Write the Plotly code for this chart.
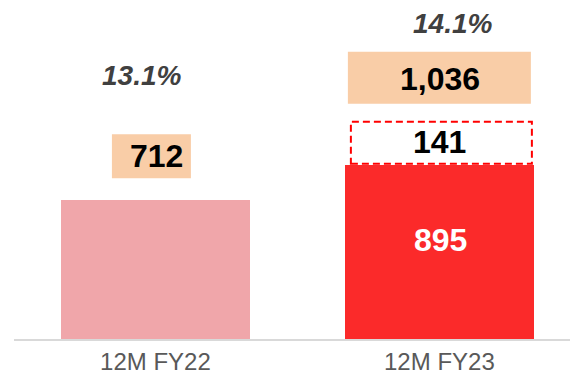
import plotly.graph_objects as go

# Data
categories = ["12M FY22", "12M FY23"]
base_values = [712, 895]
increment_fy23 = 141
totals = [712, 1036]
margins = ["13.1%", "14.1%"]

FONT = "Liberation Sans, Arial, sans-serif"
PINK = "#F0A6AA"
RED = "#FB2A2A"
PEACH = "#F9CDA7"
x_idx = [0, 1]

fig = go.Figure()
fig.add_trace(go.Bar(
    x=x_idx, y=base_values, width=0.665,
    marker=dict(color=[PINK, RED], line=dict(width=0)),
    hoverinfo="skip",
))

shapes = []
annotations = []

# FY22 total label box + text
shapes.append(dict(type="rect", xref="x", yref="y", xsizemode="pixel", ysizemode="pixel",
                   xanchor=0, yanchor=base_values[0], x0=-43.5, x1=35.5, y0=22, y1=66,
                   fillcolor=PEACH, line=dict(width=0), layer="below"))
annotations.append(dict(x=0, y=base_values[0], xref="x", yref="y", text=f"{totals[0]:,}",
                        showarrow=False, xshift=1.5, yshift=44,
                        font=dict(family=FONT, size=32, color="#000000", weight="bold")))
annotations.append(dict(x=0, y=base_values[0], xref="x", yref="y", text=f"<i>{margins[0]}</i>",
                        showarrow=False, xshift=-13.5, yshift=125,
                        font=dict(family=FONT, size=28, color="#404040", weight="bold")))

# FY23: value inside bar
annotations.append(dict(x=1, y=base_values[1], xref="x", yref="y", text=f"{base_values[1]:,}",
                        showarrow=False, xshift=1, yshift=-75,
                        font=dict(family=FONT, size=32, color="#FFFFFF", weight="bold")))
# FY23 increment dashed box
shapes.append(dict(type="rect", xref="x", yref="y", xsizemode="pixel", ysizemode="pixel",
                   xanchor=1, yanchor=base_values[1], x0=-88.5, x1=92.5, y0=1, y1=43,
                   fillcolor="rgba(0,0,0,0)", line=dict(color="#FF0000", width=2, dash="7px,4px")))
annotations.append(dict(x=1, y=base_values[1], xref="x", yref="y", text=f"{increment_fy23:,}",
                        showarrow=False, xshift=0.5, yshift=23,
                        font=dict(family=FONT, size=32, color="#000000", weight="bold")))
# FY23 total label box + text
shapes.append(dict(type="rect", xref="x", yref="y", xsizemode="pixel", ysizemode="pixel",
                   xanchor=1, yanchor=base_values[1], x0=-91.5, x1=91.5, y0=61, y1=113,
                   fillcolor=PEACH, line=dict(width=0), layer="below"))
annotations.append(dict(x=1, y=base_values[1], xref="x", yref="y", text=f"{totals[1]:,}",
                        showarrow=False, xshift=0.5, yshift=86,
                        font=dict(family=FONT, size=32, color="#000000", weight="bold")))
annotations.append(dict(x=1, y=base_values[1], xref="x", yref="y", text=f"<i>{margins[1]}</i>",
                        showarrow=False, xshift=13.5, yshift=141,
                        font=dict(family=FONT, size=28, color="#404040", weight="bold")))

fig.update_layout(
    width=570, height=377,
    margin=dict(l=14, r=0, t=0, b=38),
    paper_bgcolor="white", plot_bgcolor="white",
    showlegend=False,
    bargap=0,
    shapes=shapes,
    annotations=annotations,
    xaxis=dict(
        tickmode="array", tickvals=x_idx, ticktext=categories,
        range=[-0.498, 1.46],
        showline=True, linecolor="#D9D9D9", linewidth=2,
        showgrid=False, zeroline=False, ticks="",
        tickfont=dict(family=FONT, size=24, color="#595959"),
    ),
    yaxis=dict(range=[0, 1741], visible=False, showgrid=False, zeroline=False),
)

fig.write_html("out.html")
